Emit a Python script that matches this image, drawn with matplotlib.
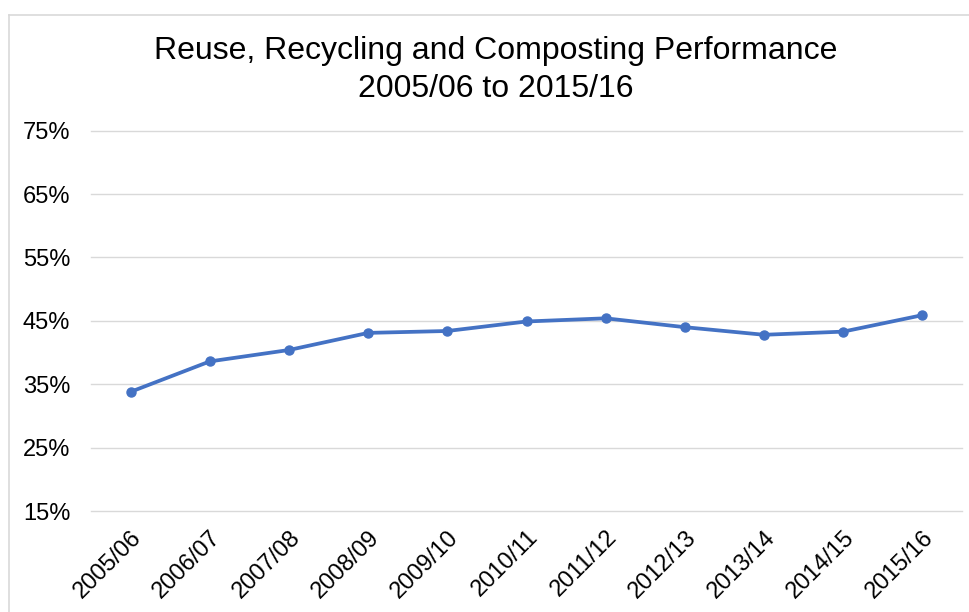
import matplotlib
matplotlib.use("Agg")
import matplotlib.pyplot as plt
from matplotlib.lines import Line2D
from matplotlib.ticker import FuncFormatter

plt.rcParams['font.family'] = ['Liberation Sans', 'DejaVu Sans']

years = ["2005/06", "2006/07", "2007/08", "2008/09", "2009/10", "2010/11",
         "2011/12", "2012/13", "2013/14", "2014/15", "2015/16"]
rate = [33.8, 38.6, 40.4, 43.1, 43.4, 44.9, 45.4, 44.0, 42.8, 43.3, 45.9]
yticks = [15, 25, 35, 45, 55, 65, 75]

W, H = 969, 612
fig = plt.figure(figsize=(W / 100, H / 100), dpi=100)
ax = fig.add_axes([91 / W, 1 - 511 / H, (962 - 91) / W, (511 - 130.7) / H])

x = list(range(len(years)))
ax.plot(x, rate, color="#4472C4", lw=2.7, marker="o", ms=6.5, zorder=3)

ax.set_xlim(-0.5, len(years) - 0.5)
ax.set_ylim(15, 75)
ax.set_yticks(yticks)
ax.yaxis.set_major_formatter(FuncFormatter(lambda v, p: f"{v:.0f}%"))
ax.grid(axis="y", color="#d9d9d9", lw=1)
for gl in ax.get_ygridlines():
    gl.set_clip_on(False)
ax.set_axisbelow(True)
for s in ax.spines.values():
    s.set_visible(False)
ax.tick_params(axis="both", length=0, labelsize=17, colors="#000000")
ax.tick_params(axis="y", pad=15)
ax.tick_params(axis="x", pad=11)
ax.set_xticks(x)
ax.set_xticklabels(years, rotation=45, ha="right", rotation_mode="anchor")

fig.text(496 / W, 1 - 70 / H, "Reuse, Recycling and Composting Performance\n2005/06 to 2015/16",
         ha="center", va="center", fontsize=23, linespacing=1.38)

# chart border (top and left visible)
fig.add_artist(Line2D([9 / W, 9 / W], [0, 1 - 15 / H], color="#d9d9d9", lw=1.2,
                      transform=fig.transFigure))
fig.add_artist(Line2D([9 / W, 1], [1 - 15 / H, 1 - 15 / H], color="#d9d9d9", lw=1.2,
                      transform=fig.transFigure))

fig.savefig("out.png", dpi=100)
